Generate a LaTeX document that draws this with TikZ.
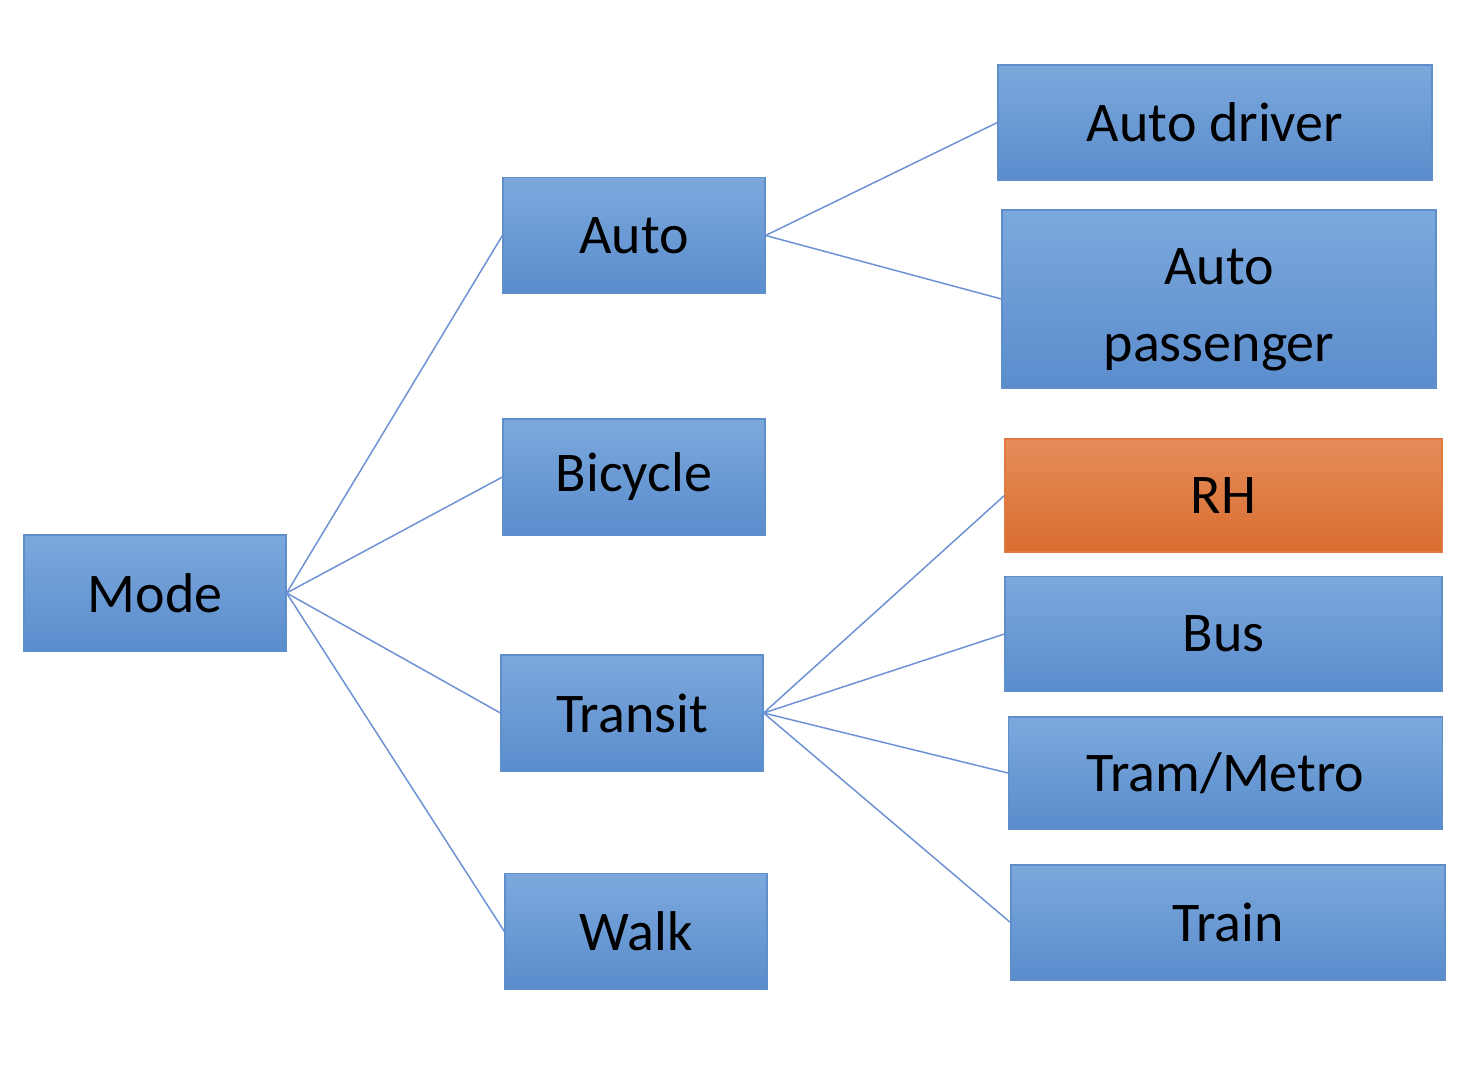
\documentclass[tikz,border=0pt]{standalone}
\usepackage{fontspec}
\setmainfont{Carlito}
\usepackage{tikz}

\definecolor{boxtop}{HTML}{7CA8DC}
\definecolor{boxbot}{HTML}{5A8DCD}
\definecolor{boxedge}{HTML}{5F8FCB}
\definecolor{rhtop}{HTML}{E68D5A}
\definecolor{rhbot}{HTML}{D86C2E}
\definecolor{rhedge}{HTML}{E07A3E}
\definecolor{link}{HTML}{6E93D4}

\begin{document}
\begin{tikzpicture}[x=0.5pt, y=-0.5pt]
\tikzstyle{every node} = [rectangle, draw=boxedge, line width=0.6pt, top color=boxtop, bottom color=boxbot, inner sep=0pt, font=\fontsize{28}{38.5}\selectfont, align=center]
\tikzstyle{mid} = [minimum width=131pt, minimum height=58pt]
\tikzstyle{leaf} = [minimum width=217pt, minimum height=57.5pt]
\useasboundingbox (0,0) rectangle (1478,1068);

\node[mid](Mode) at (155,593) {Mode};
\node[mid](Auto) at (634,235.5) {Auto};
\node[mid](Bicycle) at (634,477) {Bicycle};
\node[mid](Transit) at (632,713) {Transit};
\node[mid](Walk) at (636,931.5) {Walk};
\node[leaf](Driver) at (1215,122.5) {Auto driver};
\node[leaf, minimum height=89pt](Passenger) at (1219,299) {\rule{0pt}{29pt}Auto\\passenger};
\node[leaf, minimum width=218.5pt, minimum height=56.5pt, draw=rhedge, top color=rhtop, bottom color=rhbot](RH) at (1223.5,495.5) {RH};
\node[leaf, minimum width=218.5pt](Bus) at (1223.5,634) {Bus};
\node[leaf, minimum height=56pt](Tram) at (1225.5,773) {Tram/Metro};
\node[leaf](Train) at (1228,922.5) {Train};

\foreach \from/\to in {Mode/Auto, Mode/Bicycle, Mode/Transit, Mode/Walk, Auto/Driver, Auto/Passenger, Transit/RH, Transit/Bus, Transit/Tram, Transit/Train}
\draw [link, line width=0.75pt] (\from.east) -- (\to.west);

\end{tikzpicture}
\end{document}
